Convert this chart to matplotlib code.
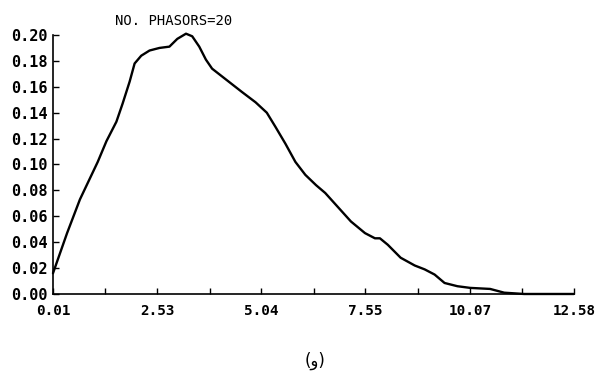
import matplotlib
matplotlib.use("Agg")
import matplotlib.pyplot as plt

# Data
x_vals = [0.01, 0.35, 0.66, 1.09, 1.30, 1.54, 1.69, 1.86, 1.98, 2.14, 2.34, 2.58,
          2.82, 3.01, 3.22, 3.37, 3.54, 3.70, 3.85, 4.01, 4.33, 4.57, 4.90, 5.17,
          5.38, 5.62, 5.86, 6.10, 6.36, 6.58, 6.89, 7.20, 7.54, 7.78, 7.90, 8.09,
          8.40, 8.74, 8.98, 9.22, 9.46, 9.77, 10.08, 10.56, 10.90, 11.38, 12.58]
y_vals = [0.016, 0.047, 0.073, 0.102, 0.118, 0.133, 0.147, 0.164, 0.178, 0.184, 0.188, 0.190,
          0.191, 0.197, 0.201, 0.199, 0.191, 0.181, 0.174, 0.170, 0.162, 0.156, 0.148, 0.140,
          0.129, 0.116, 0.102, 0.092, 0.084, 0.078, 0.067, 0.056, 0.047, 0.043, 0.043, 0.038,
          0.028, 0.022, 0.019, 0.015, 0.0085, 0.006, 0.0047, 0.0039, 0.001, 0.0, 0.0]
x_tick_vals = [0.01, 2.53, 5.04, 7.55, 10.07, 12.58]
x_tick_labels = ["0.01", "2.53", "5.04", "7.55", "10.07", "12.58"]
x_minor_vals = [1.27, 3.79, 6.30, 8.81, 11.32]
y_tick_vals = [0.00, 0.02, 0.04, 0.06, 0.08, 0.10, 0.12, 0.14, 0.16, 0.18, 0.20]
y_tick_labels = ["0.00", "0.02", "0.04", "0.06", "0.08", "0.10", "0.12", "0.14", "0.16", "0.18", "0.20"]
title_text = "NO. PHASORS=20"
caption_text = "(و)"

fig = plt.figure(figsize=(5.98, 3.77), dpi=100)
ax = fig.add_axes([0.0886, 0.2202, 0.871, 0.687])

ax.plot(x_vals, y_vals, color="black", lw=1.7, clip_on=False,
        solid_joinstyle="round", solid_capstyle="round")

ax.set_xlim(0.01, 12.58)
ax.set_ylim(0.0, 0.20)
for s in ["top", "right"]:
    ax.spines[s].set_visible(False)
for s in ["left", "bottom"]:
    ax.spines[s].set_linewidth(1.2)
    ax.spines[s].set_color("black")

mono = "DejaVu Sans Mono"
ax.set_xticks(x_tick_vals)
ax.set_xticklabels(x_tick_labels, family=mono, fontsize=10.3, fontweight="bold")
ax.set_xticks(x_minor_vals, minor=True)
ax.set_yticks(y_tick_vals)
ax.set_yticklabels(y_tick_labels, family=mono, fontsize=11, fontweight="bold")
ax.tick_params(axis="both", which="both", direction="in", length=4, width=1, color="black")
ax.tick_params(axis="x", which="major", pad=7)
ax.tick_params(axis="y", which="major", pad=4)

fig.text(115 / 598, 1 - 21 / 377, title_text, family=mono, fontsize=10, ha="left", va="center")
fig.text(315 / 598, 1 - 361 / 377, caption_text, family="DejaVu Sans", fontsize=12, ha="center", va="center")

fig.savefig("out.png", dpi=100)
